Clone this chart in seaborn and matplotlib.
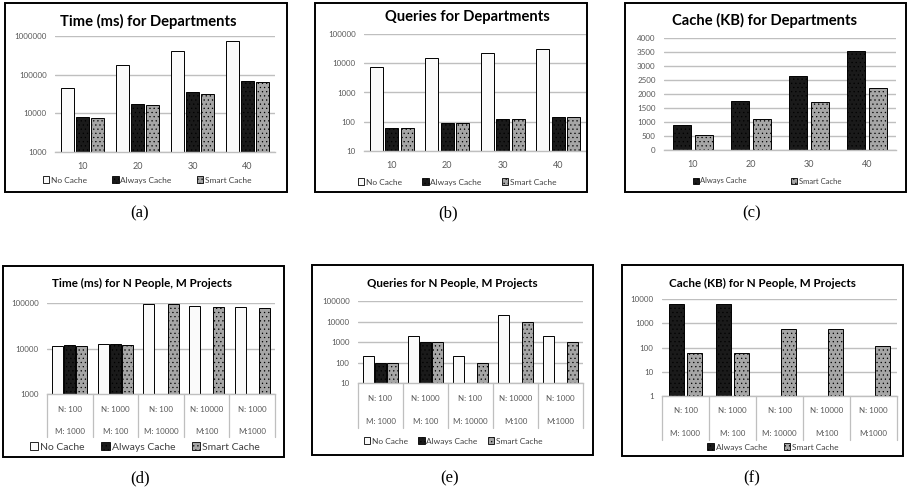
import numpy as np
import pandas as pd
import seaborn as sns
import matplotlib.pyplot as plt
from matplotlib.patches import Rectangle
from matplotlib.ticker import FixedLocator, FuncFormatter, NullLocator

sns.set_theme(style="white")
plt.rcParams['font.family'] = ['Lato', 'DejaVu Sans']
plt.rcParams['hatch.linewidth'] = 0.4

W, H = 907, 494

# departments (top row)
dept_sizes = ["10", "20", "30", "40"]
dept_time_none = [45000, 180000, 400000, 750000]
dept_time_always = [8000, 17000, 35000, 68000]
dept_time_smart = [7700, 16800, 32000, 64000]

dept_queries_none = [7300, 15000, 22000, 30000]
dept_queries_always = [60, 90, 120, 150]
dept_queries_smart = [60, 90, 120, 150]

dept_cache_always = [880, 1750, 2650, 3520]
dept_cache_smart = [540, 1100, 1700, 2200]

# N people, M projects (bottom row)
np_n_labels = ["N: 100", "N: 1000", "N: 100", "N: 10000", "N: 1000"]
np_m_labels = ["M: 1000", "M: 100", "M: 10000", "M:100", "M:1000"]
np_cats = [f"{n} / {m}" for n, m in zip(np_n_labels, np_m_labels)]
np_time_none = [11500, 12500, 95000, 85000, 80000]
np_time_always = [11800, 12300, np.nan, np.nan, np.nan]
np_time_smart = [11200, 12000, 93000, 82000, 77000]

np_queries_none = [200, 2000, 200, 20000, 2000]
np_queries_always = [100, 1000, np.nan, np.nan, np.nan]
np_queries_smart = [100, 1000, 100, 10000, 1000]

np_cache_always = [6000, 6200, np.nan, np.nan, np.nan]
np_cache_smart = [62, 60, 600, 560, 110]

palette = {"No Cache": "#fafafa", "Always Cache": "#1a1a1a", "Smart Cache": "#a6a6a6"}
hatches = {"No Cache": "", "Always Cache": "....", "Smart Cache": "...."}
GRAY = "#595959"


def to_long(cats, series):
    rows = []
    for name, vals in series.items():
        for c, v in zip(cats, vals):
            rows.append({"cat": c, "method": name, "value": v})
    return pd.DataFrame(rows)


def style_patch(p, m):
    p.set_edgecolor("black")
    p.set_hatch(hatches[m])


def px_axes(l, t, r, b):
    return fig.add_axes([l / W, 1 - b / H, (r - l) / W, (b - t) / H])


def frame(x0, y0, x1, y1):
    fig.add_artist(Rectangle((x0 / W, 1 - y1 / H), (x1 - x0) / W, (y1 - y0) / H,
                             transform=fig.transFigure, fill=False, lw=1.4, ec="black"))


def panel(ax_box, frame_box, title, title_xy, title_fs, cats, series, ylim, ticks, log,
          width, gap, leg_xy, leg_fs, colsp, table=None):
    ax = px_axes(*ax_box)
    frame(*frame_box)
    order = list(series.keys())
    df = to_long(cats, series)
    if log:
        ax.set_yscale("log")
    sns.barplot(data=df, x="cat", y="value", hue="method", hue_order=order, order=cats,
                palette=palette, errorbar=None, width=width, gap=gap,
                legend=False, ax=ax)
    for cont, m in zip(ax.containers, order):
        for p in cont.patches:
            style_patch(p, m)
            p.set_linewidth(0.7)
    ax.set_ylim(*ylim)
    ax.yaxis.set_major_locator(FixedLocator(ticks))
    ax.yaxis.set_minor_locator(NullLocator())
    ax.yaxis.set_major_formatter(FuncFormatter(lambda v, _: f"{v:.0f}"))
    ax.yaxis.grid(True, color="#bfbfbf", lw=1.0)
    ax.set_axisbelow(True)
    for s in ["left", "right", "top"]:
        ax.spines[s].set_visible(False)
    ax.spines["bottom"].set_color("#bfbfbf")
    ax.spines["bottom"].set_linewidth(1.0)
    ax.set_xlabel("")
    ax.set_ylabel("")
    ax.tick_params(axis="y", length=0, labelsize=5.8, labelcolor=GRAY, pad=6)
    ax.tick_params(axis="x", length=0, labelsize=6.5, labelcolor=GRAY, pad=7)
    ax.set_xlim(-0.5, len(cats) - 0.5)
    if table is not None:
        n_labels, m_labels, n_y, m_y, bot_y = table
        ax.set_xticklabels([])
        top_px, bot_px = ax_box[1], ax_box[3]
        frac = lambda y: (bot_px - y) / (bot_px - top_px)
        tr = ax.get_xaxis_transform()
        for i, (n, m) in enumerate(zip(n_labels, m_labels)):
            ax.text(i, frac(n_y), n, transform=tr, ha="center", va="center",
                    fontsize=5.8, color=GRAY, clip_on=False)
            ax.text(i, frac(m_y), m, transform=tr, ha="center", va="center",
                    fontsize=5.8, color=GRAY, clip_on=False)
        for i in range(len(cats) + 1):
            ax.plot([i - 0.5, i - 0.5], [0, frac(bot_y)], transform=tr,
                    color="#bfbfbf", lw=0.9, clip_on=False)
    fig.text(title_xy[0] / W, 1 - title_xy[1] / H, title, ha="center", va="center",
             fontsize=title_fs, fontweight="bold", color="black")
    handles = []
    for m in order:
        r = Rectangle((0, 0), 1, 1, fc=palette[m], lw=0.6)
        style_patch(r, m)
        handles.append(r)
    fig.legend(handles, order, loc="center", bbox_to_anchor=(leg_xy[0] / W, 1 - leg_xy[1] / H),
               ncol=len(order), frameon=False, fontsize=leg_fs, handlelength=0.8,
               handleheight=0.8, handletextpad=0.2, columnspacing=colsp,
               labelcolor="#404040", borderpad=0, borderaxespad=0)
    return ax


fig = plt.figure(figsize=(W / 100, H / 100), dpi=100)

panel((55, 36, 275, 152), (5, 3, 287, 192), "Time (ms) for Departments", (148, 21), 10.6,
      dept_sizes, {"No Cache": dept_time_none, "Always Cache": dept_time_always,
                   "Smart Cache": dept_time_smart},
      (1e3, 1e6), [1e3, 1e4, 1e5, 1e6], True, 0.84, 0.15, (147, 180), 6, 3.0)

panel((364, 34, 586, 151), (315, 3, 587, 192), "Queries for Departments", (467, 17), 10.6,
      dept_sizes, {"No Cache": dept_queries_none, "Always Cache": dept_queries_always,
                   "Smart Cache": dept_queries_smart},
      (10, 1e5), [10, 100, 1e3, 1e4, 1e5], True, 0.84, 0.15, (457, 182), 6, 2.4)

panel((664, 38, 896, 150), (625, 3, 906, 192), "Cache (KB) for Departments", (764, 20), 10.6,
      dept_sizes, {"Always Cache": dept_cache_always, "Smart Cache": dept_cache_smart},
      (0, 4000), list(range(0, 4001, 500)), False, 0.76, 0.2, (767, 181), 5.5, 5.8)

panel((47, 303, 275, 394), (3, 266, 284, 457), "Time (ms) for N People, M Projects", (142, 283), 8.4,
      np_cats, {"No Cache": np_time_none, "Always Cache": np_time_always,
                "Smart Cache": np_time_smart},
      (1e3, 1e5), [1e3, 1e4, 1e5], True, 0.8, 0.1, (145, 447), 7.5, 1.6,
      table=(np_n_labels, np_m_labels, 409, 432, 437))

panel((358, 301, 583, 383), (312, 265, 593, 455), "Queries for N People, M Projects", (452, 283), 8.4,
      np_cats, {"No Cache": np_queries_none, "Always Cache": np_queries_always,
                "Smart Cache": np_queries_smart},
      (10, 1e5), [10, 100, 1e3, 1e4, 1e5], True, 0.8, 0.1, (453, 441), 6, 1.2,
      table=(np_n_labels, np_m_labels, 398, 421, 428))

panel((662, 299, 897, 396), (622, 265, 903, 456), "Cache (KB) for N People, M Projects", (762, 283), 8.4,
      np_cats, {"Always Cache": np_cache_always, "Smart Cache": np_cache_smart},
      (1, 1e4), [1, 10, 100, 1e3, 1e4], True, 0.78, 0.15, (773, 447), 6, 2.0,
      table=(np_n_labels, np_m_labels, 410, 433, 440))

for lab, x, y in [("(a)", 140, 213), ("(b)", 448, 213), ("(c)", 752, 213),
                  ("(d)", 140, 478), ("(e)", 450, 478), ("(f)", 752, 478)]:
    fig.text(x / W, 1 - y / H, lab, ha="center", va="center", fontsize=12,
             family="Liberation Serif", color="black")

fig.savefig("out.png", dpi=100)
